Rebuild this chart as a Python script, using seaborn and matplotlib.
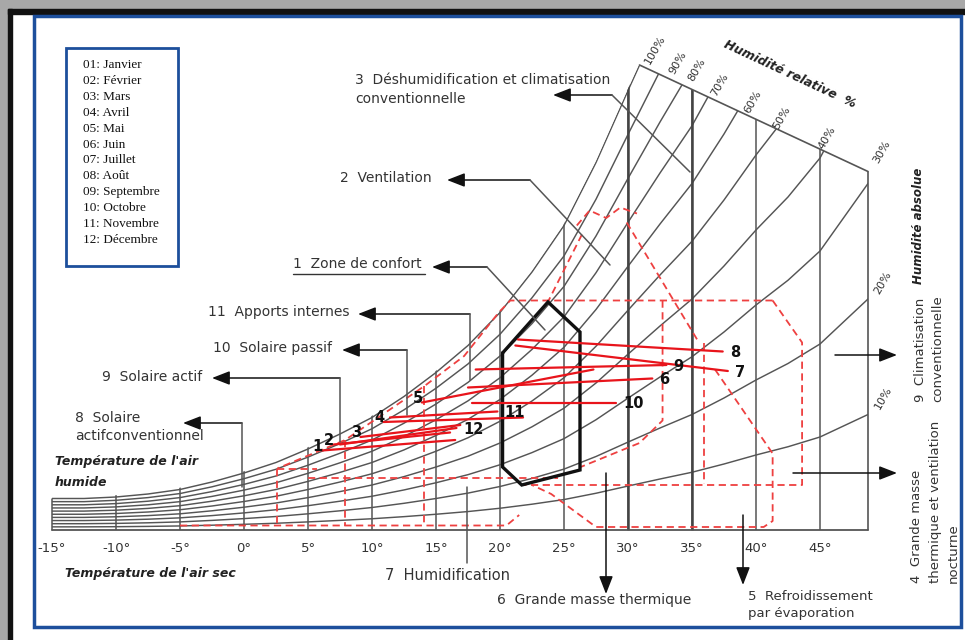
import numpy as np
import pandas as pd
import matplotlib
matplotlib.use("Agg")
import matplotlib.pyplot as plt
from matplotlib.patches import Polygon, Rectangle
from matplotlib.lines import Line2D
import seaborn as sns

# ------------------------------------------------------------------ data
temp_grid = [-15, -12.5, -10, -7.5, -5, -2.5, 0, 2.5, 5, 7.5, 10, 12.5, 15, 17.5,
             20, 22.5, 25, 27.5, 30, 32.5, 35, 37.5, 40, 42.5, 45, 47.5, 50]
sat_humidity = [2.1, 2.1, 2.2, 2.4, 2.7, 3.2, 3.8, 4.5, 5.4, 6.4, 7.5, 8.9, 10.5, 12.3,
                14.5, 17.2, 20.3, 24.5, 29.3, 34.0, 38.5, 44.0, 50.0, 55.5, 62.0, 72.0, 82.0]
rh_levels = [10, 20, 30, 40, 50, 60, 70, 80, 90, 100]
rh_labels = ["10%", "20%", "30%", "40%", "50%", "60%", "70%", "80%", "90%", "100%"]
temp_ticks = [-15, -10, -5, 0, 5, 10, 15, 20, 25, 30, 35, 40, 45]
tick_labels = ["-15°", "-10°", "-5°", "0°", "5°", "10°", "15°", "20°", "25°",
               "30°", "35°", "40°", "45°"]
diag_T = [30.9, 48.75]
diag_w = [31.0, 23.9]
t_right = 48.75

comfort_T = [20.2, 23.75, 26.25, 26.25, 21.7, 20.2, 20.2]
comfort_w = [11.8, 15.2, 13.2, 4.0, 3.0, 4.2, 11.8]

months = ["1", "2", "3", "4", "5", "6", "7", "8", "9", "10", "11", "12"]
t_min = [6.1, 7.0, 9.1, 10.9, 13.9, 17.5, 21.2, 21.4, 18.1, 17.8, 11.4, 7.5]
t_max = [16.5, 16.1, 16.9, 21.8, 27.3, 31.9, 37.8, 37.4, 33.0, 29.1, 19.8, 16.6]
w_tmin = [5.3, 5.7, 6.2, 7.2, 8.5, 9.5, 12.3, 12.7, 10.7, 8.5, 7.5, 5.7]
w_tmax = [6.0, 6.5, 7.0, 7.5, 10.7, 10.1, 10.6, 11.9, 11.0, 8.5, 7.9, 6.8]

legend_entries = ["01: Janvier", "02: Février", "03: Mars", "04: Avril", "05: Mai",
                  "06: Juin", "07: Juillet", "08: Août", "09: Septembre",
                  "10: Octobre", "11: Novembre", "12: Décembre"]

# red dashed zone boundaries (temperature °C, humidity g/kg)
zone_vent_T = [41.3, 20.8, 19.9, 17.2, 14.1, 7.9, 2.6]
zone_vent_w = [15.3, 15.3, 14.5, 11.6, 9.6, 6.0, 4.1]
zone_vent_right_T = [41.3, 43.6, 43.6, 21.8]
zone_vent_right_w = [15.3, 12.5, 3.0, 3.0]
zone_sun_steps_T = [[14.1, 14.1], [7.9, 7.9], [2.6, 2.6], [2.6, 5.7], [5.0, 24.5]]
zone_sun_steps_w = [[9.6, 0.3], [6.0, 0.3], [4.1, 0.3], [4.1, 4.1], [3.5, 3.5]]
zone_evap_T = [[29.9, 35.4], [35.9, 35.9], [36.8, 41.3, 41.3, 40.6, 27.5, 24.0, 22.5]]
zone_evap_w = [[20.5, 12.7], [12.5, 3.1], [10.7, 5.1, 0.6, 0.2, 0.2, 2.4, 3.0]]
zone_mass_T = [32.7, 32.7, 30.9, 26.3]
zone_mass_w = [15.3, 7.3, 5.8, 4.2]
zone_top_T = [[26.0, 27.0, 28.3, 29.4, 30.7], [26.4, 23.8]]
zone_top_w = [[20.3, 21.3, 20.8, 21.5, 21.1], [19.7, 15.3]]
zone_bottom_T = [-5.0, 20.5, 21.5]
zone_bottom_w = [0.3, 0.3, 1.0]

# ------------------------------------------------------------------ figure
W, H = 965, 640
sns.set_theme(style="white")
plt.rcParams["font.family"] = ["DejaVu Sans"]

fig = plt.figure(figsize=(W / 100, H / 100), dpi=100)
fig.patch.set_facecolor("white")
ax = fig.add_axes([0, 0, 1, 1])
# pixel mapping: -15°C at x=52, 12.8 px/°C ; 0 g/kg at y=530, 15 px per g/kg
ax.set_xlim(-15 - 52 / 12.8, -15 + (W - 52) / 12.8)
ax.set_ylim(-(H - 530) / 15, 530 / 15)
ax.axis("off")


def fp(x, y):
    return (x / W, 1 - y / H)


GRID = "#555555"
# clip region: under the saturation curve and the diagonal RH line
Tg = np.linspace(-15, t_right, 900)
top = np.minimum(np.interp(Tg, temp_grid, sat_humidity) + 0.12,
                 np.interp(Tg, diag_T, diag_w))
verts = [(-15.0, -0.05)] + list(zip(Tg, top)) + [(t_right, -0.05)]
clip = Polygon(verts, closed=True, transform=ax.transData, fill=False, lw=0)
ax.add_patch(clip)

# relative humidity curves
rh_rows = []
for rh in rh_levels:
    for t, s in zip(temp_grid, sat_humidity):
        rh_rows.append({"T": t, "w": rh / 100 * s, "rh": rh})
rh_df = pd.DataFrame(rh_rows)
n0 = len(ax.lines)
sns.lineplot(data=rh_df, x="T", y="w", units="rh", estimator=None, sort=False,
             color=GRID, lw=1.05, legend=False, ax=ax)
for ln in ax.lines[n0:]:
    ln.set_clip_path(clip)

# vertical temperature lines
vl = ax.vlines(temp_ticks[1:], 0, 40, colors=GRID, lw=1.1)
vl.set_clip_path(clip)
vl2 = ax.vlines([30, 35], 0, 40, colors="#444444", lw=1.8)
vl2.set_clip_path(clip)

# frame of the diagram
ax.plot(diag_T, diag_w, color=GRID, lw=1.2)
ax.plot([t_right, t_right], [0, diag_w[1]], color=GRID, lw=1.2)
ax.plot([-15, t_right], [0, 0], color=GRID, lw=1.3)
ax.plot([-15, -15], [0, sat_humidity[0]], color=GRID, lw=1.1)

# red dashed zones
RED_D = "#ee4040"
dash = dict(color=RED_D, lw=1.3, ls=(0, (4, 2.5)))
ax.plot(zone_vent_T, zone_vent_w, **dash)
ax.plot(zone_vent_right_T, zone_vent_right_w, **dash)
for xs, ys in zip(zone_sun_steps_T, zone_sun_steps_w):
    ax.plot(xs, ys, **dash)
for xs, ys in zip(zone_evap_T, zone_evap_w):
    ax.plot(xs, ys, **dash)
ax.plot(zone_mass_T, zone_mass_w, **dash)
for xs, ys in zip(zone_top_T, zone_top_w):
    ax.plot(xs, ys, **dash)
ax.plot(zone_bottom_T, zone_bottom_w, **dash)

# comfort zone
ax.plot(comfort_T, comfort_w, color="#111111", lw=2.4, solid_joinstyle="miter")

# monthly lines
m_rows = []
for m, a, b, c, d in zip(months, t_min, w_tmin, t_max, w_tmax):
    m_rows.append({"T": a, "w": b, "month": m})
    m_rows.append({"T": c, "w": d, "month": m})
m_df = pd.DataFrame(m_rows)
sns.lineplot(data=m_df, x="T", y="w", units="month", estimator=None, sort=False,
             color="#e8141b", lw=1.6, legend=False, ax=ax)
for i, m in enumerate(months):
    if i < 5:
        ax.annotate(m, (t_min[i], w_tmin[i]), xytext=(-3, 3), textcoords="offset points",
                    ha="center", va="center", fontsize=10.5, fontweight="bold", color="#111")
    else:
        ax.annotate(m, (t_max[i], w_tmax[i]), xytext=(5, -1), textcoords="offset points",
                    ha="left", va="center", fontsize=10.5, fontweight="bold", color="#111")

# tick labels
for t, lab in zip(temp_ticks, tick_labels):
    ax.text(t, -(548 - 530) / 15, lab, ha="center", va="center", fontsize=9.5, color="#333")

# RH labels along the diagonal
rh_label_pos = [(883, 398), (883, 283), (882, 152), (827, 138), (782, 118),
                (753, 102), (720, 85), (697, 70), (678, 63), (655, 50)]
for lab, (x, y) in zip(rh_labels, rh_label_pos):
    fig.text(*fp(x, y), lab, rotation=60, ha="center", va="center", fontsize=8, color="#333")

TXT = "#333333"
texts = [
    ("3  Déshumidification et climatisation", 355, 80, 10),
    ("conventionnelle", 355, 99, 10),
    ("2  Ventilation", 340, 178, 10),
    ("1  Zone de confort", 293, 264, 10),
    ("11  Apports internes", 208, 312, 10),
    ("10  Solaire passif", 213, 348, 10),
    ("9  Solaire actif", 102, 377, 10),
    ("8  Solaire", 75, 418, 10),
    ("actifconventionnel", 75, 436, 10),
    ("7  Humidification", 385, 576, 10.5),
    ("6  Grande masse thermique", 497, 600, 10),
    ("5  Refroidissement", 748, 596, 9.5),
    ("par évaporation", 748, 614, 9.5),
]
for s, x, y, f in texts:
    fig.text(*fp(x, y), s, ha="left", va="center", fontsize=f, color=TXT)
fig.add_artist(Line2D([293 / W, 425 / W], [1 - 274 / H, 1 - 274 / H], color=TXT, lw=1.0))

bi = dict(fontsize=9, fontweight="bold", fontstyle="italic", color="#222")
fig.text(*fp(55, 462), "Température de l'air", ha="left", va="center", **bi)
fig.text(*fp(55, 482), "humide", ha="left", va="center", **bi)
fig.text(*fp(65, 574), "Température de l'air sec", ha="left", va="center", **bi)
fig.text(*fp(790, 74), "Humidité relative  %", rotation=-25, ha="center", va="center", **bi)
fig.text(*fp(918, 226), "Humidité absolue", rotation=90, ha="center", va="center",
         fontsize=8.5, fontweight="bold", fontstyle="italic", color="#222")

rot = dict(rotation=90, ha="center", va="bottom", fontsize=9.5, color=TXT)
fig.text(*fp(921, 402), "9  Climatisation", **rot)
fig.text(*fp(938, 402), "conventionnelle", **rot)
fig.text(*fp(917, 583), "4  Grande masse", **rot)
fig.text(*fp(935, 583), "thermique et ventilation", **rot)
fig.text(*fp(953, 583), "nocturne", **rot)


def callout(points, arrow=True):
    pts = [fp(*p) for p in points]
    if len(pts) > 2 or not arrow:
        seg = pts[:-1] if arrow else pts
        xs, ys = zip(*seg)
        fig.add_artist(Line2D(xs, ys, color="#555", lw=1.1))
    if arrow:
        ax.annotate("", xy=pts[-1], xytext=pts[-2], xycoords="figure fraction",
                    textcoords="figure fraction",
                    arrowprops=dict(arrowstyle="-|>,head_length=0.9,head_width=0.35",
                                    color="#111", lw=1.1, shrinkA=0, shrinkB=0,
                                    mutation_scale=12))


callout([(690, 172), (612, 95), (553, 95)])
callout([(610, 265), (530, 180), (447, 180)])
callout([(545, 330), (487, 267), (432, 267)])
callout([(470, 380), (470, 314), (358, 314)])
callout([(407, 415), (407, 350), (342, 350)])
callout([(340, 442), (340, 378), (212, 378)])
callout([(242, 487), (242, 423), (183, 423)])
callout([(467, 487), (467, 563)], arrow=False)
callout([(606, 473), (606, 594)])
callout([(743, 515), (743, 585)])
callout([(793, 473), (897, 473)])
callout([(835, 355), (897, 355)])

# legend box
fig.add_artist(Rectangle(fp(66, 266), (178 - 66) / W, (266 - 48) / H, fill=False,
                         edgecolor="#1d4f9c", lw=2.0, transform=fig.transFigure))
for i, s in enumerate(legend_entries):
    fig.text(*fp(83, 65 + i * 15.9), s, ha="left", va="center", fontsize=9.5,
             family=["Liberation Serif"], color="#111")

# outer frames
fig.add_artist(Rectangle((0, 1 - 9 / H), 1, 9 / H, color="#a8a8a8", transform=fig.transFigure, zorder=0))
fig.add_artist(Rectangle((0, 0), 8 / W, 1, color="#a8a8a8", transform=fig.transFigure, zorder=0))
fig.add_artist(Rectangle((8 / W, 1 - 14 / H), 1, 5 / H, color="#111", transform=fig.transFigure, zorder=0))
fig.add_artist(Rectangle((8 / W, 0), 4 / W, 1 - 9 / H, color="#111", transform=fig.transFigure, zorder=0))
fig.add_artist(Rectangle(fp(34, 627), (961 - 34) / W, (627 - 16) / H, fill=False,
                         edgecolor="#1d4f9c", lw=2.5, transform=fig.transFigure))

fig.savefig("out.png", dpi=100)
